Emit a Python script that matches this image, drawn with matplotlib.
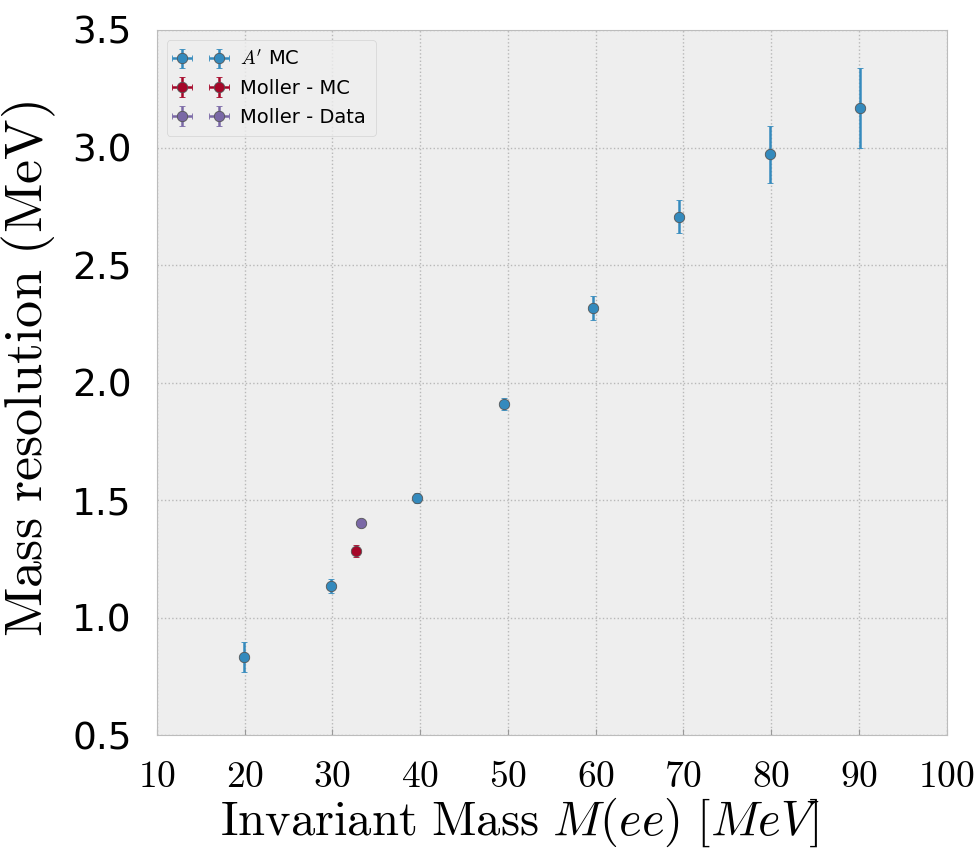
import numpy as np
import matplotlib
matplotlib.use("Agg")
import matplotlib.pyplot as plt

plt.style.use("bmh")
plt.rcParams["mathtext.fontset"] = "cm"

# A' MC points
ap_mass = [19.9, 29.8, 39.7, 49.6, 59.7, 69.5, 79.9, 90.1]
ap_res = [0.832, 1.135, 1.509, 1.908, 2.318, 2.706, 2.971, 3.169]
ap_err = [0.064, 0.028, 0.020, 0.025, 0.052, 0.071, 0.120, 0.170]

# Moller MC / data
mol_mc_mass = [32.75]
mol_mc_res = [1.283]
mol_mc_err = [0.026]

mol_data_mass = [33.3]
mol_data_res = [1.401]
mol_data_err = [0.008]

xticks = [10, 20, 30, 40, 50, 60, 70, 80, 90, 100]
yticks = [0.5, 1.0, 1.5, 2.0, 2.5, 3.0, 3.5]

fig = plt.figure(figsize=(9.74, 8.56), dpi=100)
ax = fig.add_axes([0.161, 0.141, 0.811, 0.824])
ax.set_facecolor("#eeeeee")

kw = dict(fmt="o", markersize=7.5, markeredgecolor="#555555", markeredgewidth=0.6,
          elinewidth=1.8, capsize=2.5, capthick=0.8)
ax.errorbar(ap_mass, ap_res, yerr=ap_err, xerr=0, color="#348ABD",
            label=r"$A'$ MC", **kw)
ax.errorbar(mol_mc_mass, mol_mc_res, yerr=mol_mc_err, xerr=0, color="#A60628",
            label="Moller - MC", **kw)
ax.errorbar(mol_data_mass, mol_data_res, yerr=mol_data_err, xerr=0, color="#7A68A6",
            label="Moller - Data", **kw)

ax.set_xlim(10, 100)
ax.set_ylim(0.5, 3.5)
ax.set_xticks(xticks)
ax.set_yticks(yticks)
ax.set_xticklabels([r"$\mathrm{%d}$" % t for t in xticks], fontsize=27)
ax.set_yticklabels(["%.1f" % t for t in yticks], fontsize=27)
ax.tick_params(axis="x", pad=17, length=4, direction="in", color="#999999")
ax.tick_params(axis="y", pad=18, length=0)

ax.grid(True, color="#b8b8b8", linestyle=":", linewidth=1.0)
for s in ax.spines.values():
    s.set_color("#bcbcbc")
    s.set_linewidth(0.8)

ax.set_xlabel(r"$\mathrm{Invariant\ Mass}\ M(ee)\ [MeV]$", fontsize=35)
ax.xaxis.set_label_coords(0.46, -0.086)
ax.set_ylabel(r"$\mathrm{Mass\ resolution\ (MeV)}$", fontsize=39)
ax.yaxis.set_label_coords(-0.125, 0.52)

leg = ax.legend(loc="upper left", numpoints=2, fontsize=14, frameon=True,
                fancybox=True, borderpad=0.5, handlelength=2.5)
leg.get_frame().set_facecolor("#eeeeee")
leg.get_frame().set_edgecolor("#cccccc")

fig.savefig("out.png", dpi=100)
